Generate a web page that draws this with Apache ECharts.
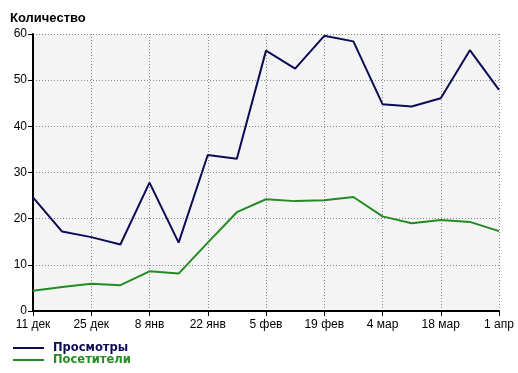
<!DOCTYPE html>
<html><head><meta charset="utf-8">
<script src="https://cdn.jsdelivr.net/npm/echarts@6/dist/echarts.min.js"></script>
<style>html,body{margin:0;padding:0;background:#fff}#c{width:518px;height:373px}</style>
</head><body><div id="c"></div>
<script>
var categories = ["11 дек","18 дек","25 дек","1 янв","8 янв","15 янв","22 янв","29 янв","5 фев","12 фев","19 фев","26 фев","4 мар","11 мар","18 мар","25 мар","1 апр"];
var views = [24.6, 17.2, 16.0, 14.4, 27.8, 14.8, 33.8, 33.0, 56.4, 52.5, 59.6, 58.4, 44.8, 44.3, 46.1, 56.5, 47.9];
var visitors = [4.4, 5.2, 5.9, 5.6, 8.6, 8.1, 14.8, 21.4, 24.2, 23.8, 24.0, 24.7, 20.5, 19.0, 19.7, 19.3, 17.3];
var seriesNames = ["Просмотры", "Посетители"];
var yTitle = "Количество";

var NAVY = "#0c0c55", GREEN = "#258a25";
var FONT = 'Liberation Sans, Arial';
function legendFor(i, top, color) {
  return {
    orient: 'horizontal', left: 8, top: top, itemWidth: 31, itemHeight: 2, icon: 'rect', padding: [0,5,0,5],
    textStyle: {fontFamily: 'DejaVu Sans', fontSize: 11.5, fontWeight: 'bold', color: color, padding: [0,0,0,4]},
    data: [{name: seriesNames[i]}]
  };
}
var chart = echarts.init(document.getElementById('c'), null, {renderer:'canvas'});
chart.setOption({
  animation: false,
  backgroundColor: '#ffffff',
  title: {text: yTitle, left: 5, top: 7, textStyle:{fontFamily: FONT, fontSize: 13, fontWeight:'bold', color:'#000'}},
  grid: {left: 33, right: 19, top: 34, bottom: 62, show: true, backgroundColor: '#f4f4f4', borderWidth: 0},
  legend: [legendFor(0, 342, NAVY), legendFor(1, 354, GREEN)],
  xAxis: {
    type: 'category', data: categories, boundaryGap: false,
    axisLine: {show: true, lineStyle:{color:'#000', width: 2}},
    axisTick: {show: true, interval: 1, length: 5, lineStyle:{color:'#000', width: 1}},
    axisLabel: {interval: 1, color:'#000', fontFamily: FONT, fontSize: 12, margin: 8},
    splitLine: {show: true, interval: 1, lineStyle:{color:'#8a8a8a', type:[1,2], width:1}}
  },
  yAxis: {
    type: 'value', min: 0, max: 60, interval: 10,
    axisLine: {show: true, lineStyle:{color:'#000', width: 2}},
    axisTick: {show: true, length: 5, lineStyle:{color:'#000', width: 1}},
    axisLabel: {color:'#000', fontFamily: FONT, fontSize: 12, margin: 6},
    splitLine: {show: true, lineStyle:{color:'#8a8a8a', type:[1,2], width:1}}
  },
  series: [
    {name: seriesNames[0], type:'line', data: views, symbol:'none', lineStyle:{color: NAVY, width: 2}, itemStyle:{color: NAVY}},
    {name: seriesNames[1], type:'line', data: visitors, symbol:'none', lineStyle:{color: GREEN, width: 2}, itemStyle:{color: GREEN}}
  ]
});
</script></body></html>
